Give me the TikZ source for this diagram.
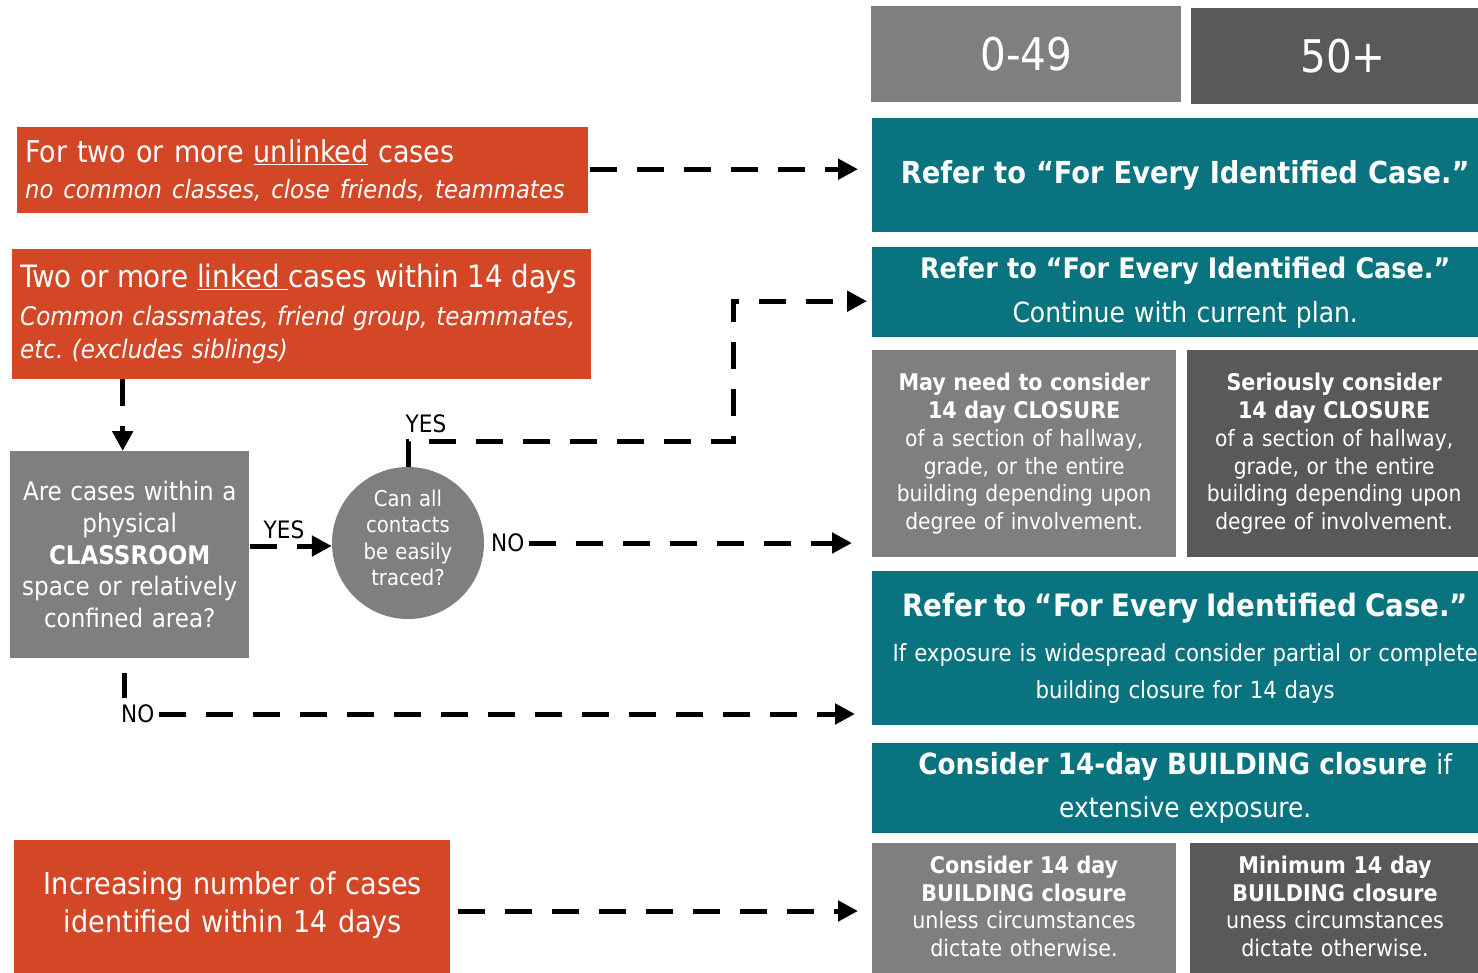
\documentclass[tikz,border=0pt]{standalone}
\usepackage{fontspec}
\setmainfont{DejaVu Sans Condensed}
\usetikzlibrary{arrows.meta}
\definecolor{orng}{HTML}{D34727}
\definecolor{tealc}{HTML}{0A7380}
\definecolor{gA}{HTML}{7F7F7F}
\definecolor{gB}{HTML}{595959}
\frenchspacing
\begin{document}
\begin{tikzpicture}[x=1pt,y=-1pt,
  box/.style={rectangle, inner sep=0pt, anchor=north west, text=white, align=center},
  txt/.style={inner sep=0pt, text=white, align=center},
  conn/.style={line width=5pt, dash pattern=on 27pt off 20pt, -{Triangle[length=20pt,width=20pt]}},
  lbl/.style={font=\fontsize{24}{28}\selectfont, text=black, inner sep=0pt},
]
\useasboundingbox (0,0) rectangle (1478,972);

% header boxes
\node[box, fill=gA, minimum width=310pt, minimum height=96pt, font=\fontsize{45}{50}\selectfont] (h1) at (871,6) {0-49};
\node[box, fill=gB, minimum width=304pt, minimum height=96pt, font=\fontsize{45}{50}\selectfont] (h2) at (1191,8) {50+};

% teal boxes
\node[box, fill=tealc, minimum width=626pt, minimum height=114pt, text width=620pt, font=\fontsize{30.3}{34}\selectfont\bfseries] (t1) at (872,118) {Refer to “For Every Identified Case.”};
\node[box, fill=tealc, minimum width=626pt, minimum height=90pt, text width=620pt, font=\fontsize{27.8}{44}\selectfont] (t2) at (872,247) {{\fontsize{28.3}{44}\selectfont\bfseries Refer to “For Every Identified Case.”}\\ Continue with current plan.};
\node[box, fill=gA, minimum width=304pt, minimum height=207pt, text width=300pt, font=\fontsize{22.5}{27.8}\selectfont] (g1) at (872,350) {{\fontsize{23}{27.8}\selectfont\bfseries May need to consider\\ 14 day CLOSURE}\\ of a section of hallway,\\ grade, or the entire\\ building depending upon\\ degree of involvement.};
\node[box, fill=gB, minimum width=294pt, minimum height=207pt, text width=290pt, font=\fontsize{22.5}{27.8}\selectfont] (g2) at (1187,350) {{\fontsize{23}{27.8}\selectfont\bfseries Seriously consider\\ 14 day CLOSURE}\\ of a section of hallway,\\ grade, or the entire\\ building depending upon\\ degree of involvement.};
\node[box, fill=tealc, minimum width=626pt, minimum height=154pt, text width=620pt, font=\fontsize{23.6}{37}\selectfont] (t3) at (872,571) {{\fontsize{30.8}{37}\selectfont\bfseries Refer to “For Every Identified Case.”}\\[8pt] If exposure is widespread consider partial or complete\\ building closure for 14 days};
\node[box, fill=tealc, minimum width=626pt, minimum height=90pt, text width=620pt, font=\fontsize{27.7}{43}\selectfont] (t4) at (872,743) {{\fontsize{29.2}{43}\selectfont\bfseries Consider 14-day BUILDING closure} if\\ extensive exposure.};
\node[box, fill=gA, minimum width=304pt, minimum height=135pt] (b1) at (872,843) {};
\node[txt, text width=300pt, font=\fontsize{23}{27.7}\selectfont] (b1t) at (1024,906.5) {{\bfseries Consider 14 day\\ BUILDING closure}\\ unless circumstances\\ dictate otherwise.};
\node[box, fill=gB, minimum width=290pt, minimum height=135pt] (b2) at (1190,843) {};
\node[txt, text width=286pt, font=\fontsize{23}{27.7}\selectfont] (b2t) at (1335,906.5) {{\bfseries Minimum 14 day\\ BUILDING closure}\\ uness circumstances\\ dictate otherwise.};

% left side
\node[box, fill=orng, minimum width=571pt, minimum height=86pt, text width=555pt, inner xsep=8pt, align=left, font=\fontsize{30}{36}\selectfont] (o1) at (17,127) {For two or more \underline{unlinked} cases\\ {\fontsize{25.2}{36}\selectfont\itshape no common classes, close friends, teammates}};
\node[box, fill=orng, minimum width=579pt, minimum height=130pt, text width=563pt, inner xsep=8pt, align=left, font=\fontsize{25.6}{33}\selectfont] (o2) at (12,249) {{\fontsize{30.8}{33}\selectfont Two or more \underline{linked\ }cases within 14 days}\\[5pt] {\itshape Common classmates, friend group, teammates,\\ etc. (excludes siblings)}};
\node[box, fill=gA, minimum width=239pt, minimum height=207pt, text width=235pt, font=\fontsize{25.6}{31.7}\selectfont] (q) at (10,451) {Are cases within a\\ physical\\ {\bfseries CLASSROOM}\\ space or relatively\\ confined area?};
\node[circle, fill=gA, minimum size=152pt, inner sep=0pt] (c) at (408,543) {};
\node[txt, text width=120pt, font=\fontsize{21.8}{26.3}\selectfont] (ct) at (408,538) {Can all\\ contacts\\ be easily\\ traced?};
\node[box, fill=orng, minimum width=436pt, minimum height=140pt] (o3) at (14,840) {};
\node[txt, text width=430pt, font=\fontsize{30.1}{38}\selectfont] (o3t) at (233,905) {Increasing number of cases\\ identified within 14 days};

% labels
\node[lbl] (yes1) at (284,530) {YES};
\node[lbl] (yes2) at (426,424) {YES};
\node[lbl, anchor=west] (no1) at (491,543) {NO};
\node[lbl, anchor=west] (no2) at (121,714) {NO};

% connectors
\draw[conn, shorten >=14pt, shorten <=2pt] ([yshift=1pt]o1.east) -- ([yshift=1pt]o1.east -| t1.west);
\draw[conn] ([xshift=-7pt]q.north |- o2.south) -- ([xshift=-7pt]q.north);
\draw[conn, shorten <=1pt] ([yshift=-3pt]q.east |- c.west) -- ([yshift=-3pt]c.west);
\draw[conn, shorten >=5pt] (c.north) |- (733,441) |- ([yshift=-9pt]t2.west);
\draw[conn, shorten >=20pt, shorten <=4pt] (no1.east) -- (no1.east -| g1.west);
\draw[line width=5pt] ([xshift=-5.5pt,yshift=-15pt]q.south) -- ++(0,25);
\draw[conn, shorten >=17pt, shorten <=4pt] (no2.east) -- (no2.east -| t3.west);
\draw[conn, shorten >=14pt, shorten <=8pt] ([yshift=-6pt]o3t.east -| o3.east) -- ([yshift=-6pt]o3t.east -| b1.west);
\end{tikzpicture}
\end{document}
